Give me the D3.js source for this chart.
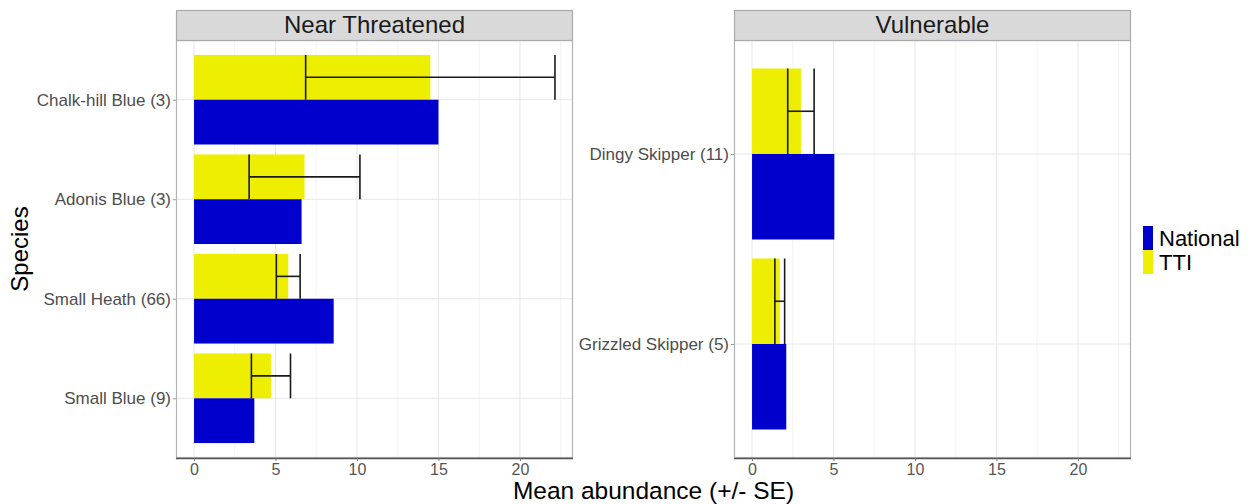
<!DOCTYPE html>
<html>
<head>
<meta charset="utf-8">
<script src="https://cdn.jsdelivr.net/npm/d3@7"></script>
<style>
  html, body { margin: 0; padding: 0; background: #ffffff; }
  svg { display: block; font-family: "Liberation Sans", Arial, Helvetica, sans-serif; }
</style>
</head>
<body>
<svg id="chart" width="1257" height="504"></svg>
<script>
// ---- Data ----
const panelTitles = ["Near Threatened", "Vulnerable"];
const categoriesNT = ["Chalk-hill Blue (3)", "Adonis Blue (3)", "Small Heath (66)", "Small Blue (9)"];
const nationalNT = [15.0, 6.6, 8.57, 3.7];
const ttiNT = [14.5, 6.78, 5.78, 4.72];
const seNT = [7.65, 3.4, 0.73, 1.2];
const categoriesVU = ["Dingy Skipper (11)", "Grizzled Skipper (5)"];
const nationalVU = [5.05, 2.1];
const ttiVU = [3.0, 1.7];
const seVU = [0.81, 0.3];
const xTicks = [0, 5, 10, 15, 20];
const xMinor = [2.5, 7.5, 12.5, 17.5, 22.5];
const seriesNames = ["National", "TTI"];
const seriesColors = ["#0000CD", "#EEEE00"];
const xTitle = "Mean abundance (+/- SE)";
const yTitle = "Species";

// ---- Layout ----
const svg = d3.select("#chart");
const panelTop = 40, panelBottom = 458, stripTop = 10;
const panels = [
  { title: panelTitles[0], x0: 176, x1: 573, cats: categoriesNT, nat: nationalNT, tti: ttiNT, se: seNT },
  { title: panelTitles[1], x0: 734, x1: 1131, cats: categoriesVU, nat: nationalVU, tti: ttiVU, se: seVU }
];

// shared x domain (fixed scales) with 5% expansion
const allUpper = [];
panels.forEach(p => p.tti.forEach((v, i) => allUpper.push(v + p.se[i])));
panels.forEach(p => p.nat.forEach(v => allUpper.push(v)));
const xmax = d3.max(allUpper);
const pad = xmax * 0.05;

panels.forEach(p => {
  const x = d3.scaleLinear().domain([-pad, xmax + pad]).range([p.x0, p.x1]);
  const y = d3.scalePoint().domain(p.cats).range([panelTop, panelBottom]).padding(0.6);
  const step = y.step();
  const bh = step * 0.45;
  const g = svg.append("g");

  // panel background
  g.append("rect").attr("x", p.x0).attr("y", panelTop).attr("width", p.x1 - p.x0)
    .attr("height", panelBottom - panelTop).attr("fill", "#ffffff");

  // minor grid
  g.selectAll(".minor").data(xMinor).enter().append("line")
    .attr("x1", d => x(d)).attr("x2", d => x(d))
    .attr("y1", panelTop).attr("y2", panelBottom)
    .attr("stroke", "#f0f0f0").attr("stroke-width", 0.8);
  // major grid
  g.selectAll(".major").data(xTicks).enter().append("line")
    .attr("x1", d => x(d)).attr("x2", d => x(d))
    .attr("y1", panelTop).attr("y2", panelBottom)
    .attr("stroke", "#e6e6e6").attr("stroke-width", 1);
  g.selectAll(".hgrid").data(p.cats).enter().append("line")
    .attr("x1", p.x0).attr("x2", p.x1)
    .attr("y1", d => y(d)).attr("y2", d => y(d))
    .attr("stroke", "#e6e6e6").attr("stroke-width", 1);

  // bars: TTI above, National below
  g.selectAll(".tti").data(p.cats).enter().append("rect")
    .attr("x", x(0)).attr("y", d => y(d) - bh)
    .attr("width", (d, i) => x(p.tti[i]) - x(0)).attr("height", bh)
    .attr("fill", seriesColors[1]);
  g.selectAll(".nat").data(p.cats).enter().append("rect")
    .attr("x", x(0)).attr("y", d => y(d))
    .attr("width", (d, i) => x(p.nat[i]) - x(0)).attr("height", bh)
    .attr("fill", seriesColors[0]);

  // error bars on TTI
  const eb = g.selectAll(".eb").data(p.cats).enter().append("g")
    .attr("stroke", "#1a1a1a").attr("stroke-width", 1.6).attr("fill", "none");
  eb.append("line")
    .attr("x1", (d, i) => x(p.tti[i] - p.se[i])).attr("x2", (d, i) => x(p.tti[i] + p.se[i]))
    .attr("y1", d => y(d) - bh / 2).attr("y2", d => y(d) - bh / 2);
  eb.append("line")
    .attr("x1", (d, i) => x(p.tti[i] - p.se[i])).attr("x2", (d, i) => x(p.tti[i] - p.se[i]))
    .attr("y1", d => y(d) - bh).attr("y2", d => y(d));
  eb.append("line")
    .attr("x1", (d, i) => x(p.tti[i] + p.se[i])).attr("x2", (d, i) => x(p.tti[i] + p.se[i]))
    .attr("y1", d => y(d) - bh).attr("y2", d => y(d));

  // panel border
  g.append("rect").attr("x", p.x0 + 0.5).attr("y", panelTop + 0.5)
    .attr("width", p.x1 - p.x0 - 1).attr("height", panelBottom - panelTop - 1)
    .attr("fill", "none").attr("stroke", "#b3b3b3").attr("stroke-width", 1.2);

  // x axis
  const xAxis = d3.axisBottom(x).tickValues(xTicks).tickSize(3).tickPadding(3).tickFormat(d3.format("d"));
  const ax = g.append("g").attr("transform", `translate(0,${panelBottom})`).call(xAxis);
  ax.select(".domain").attr("stroke", "#555555").attr("stroke-width", 1.4).attr("d", `M${p.x0},0.5H${p.x1}`);
  ax.selectAll(".tick line").attr("stroke", "#777777");
  ax.selectAll(".tick text").attr("fill", "#555555").attr("font-size", 16)
    .attr("font-family", "Liberation Sans, Arial, sans-serif");

  // y axis
  const yAxis = d3.axisLeft(y).tickSize(3).tickPadding(2);
  const ay = g.append("g").attr("transform", `translate(${p.x0},0)`).call(yAxis);
  ay.select(".domain").remove();
  ay.selectAll(".tick line").attr("stroke", "#999999");
  ay.selectAll(".tick text").attr("fill", "#4d4d4d").attr("font-size", 17)
    .attr("font-family", "Liberation Sans, Arial, sans-serif");

  // strip
  g.append("rect").attr("x", p.x0 + 0.5).attr("y", stripTop + 0.5)
    .attr("width", p.x1 - p.x0 - 1).attr("height", panelTop - stripTop)
    .attr("fill", "#d9d9d9").attr("stroke", "#aaaaaa").attr("stroke-width", 1.2);
  g.append("text").attr("x", (p.x0 + p.x1) / 2).attr("y", 33)
    .attr("text-anchor", "middle").attr("font-size", 24).attr("fill", "#1a1a1a")
    .text(p.title);
});

// axis titles
svg.append("text").attr("x", (panels[0].x0 + panels[1].x1) / 2).attr("y", 499)
  .attr("text-anchor", "middle").attr("font-size", 24.5).attr("fill", "#000000").text(xTitle);
svg.append("text").attr("transform", `translate(28,${(panelTop + panelBottom) / 2}) rotate(-90)`)
  .attr("text-anchor", "middle").attr("font-size", 24).attr("fill", "#000000").text(yTitle);

// legend
const leg = svg.append("g").attr("transform", "translate(1143,226)");
seriesNames.forEach((name, i) => {
  leg.append("rect").attr("x", 0).attr("y", i * 24).attr("width", 10).attr("height", 24)
    .attr("fill", seriesColors[i]);
  leg.append("text").attr("x", 16).attr("y", i * 24 + 20).attr("font-size", 22)
    .attr("fill", "#000000").text(name);
});
</script>
</body>
</html>
